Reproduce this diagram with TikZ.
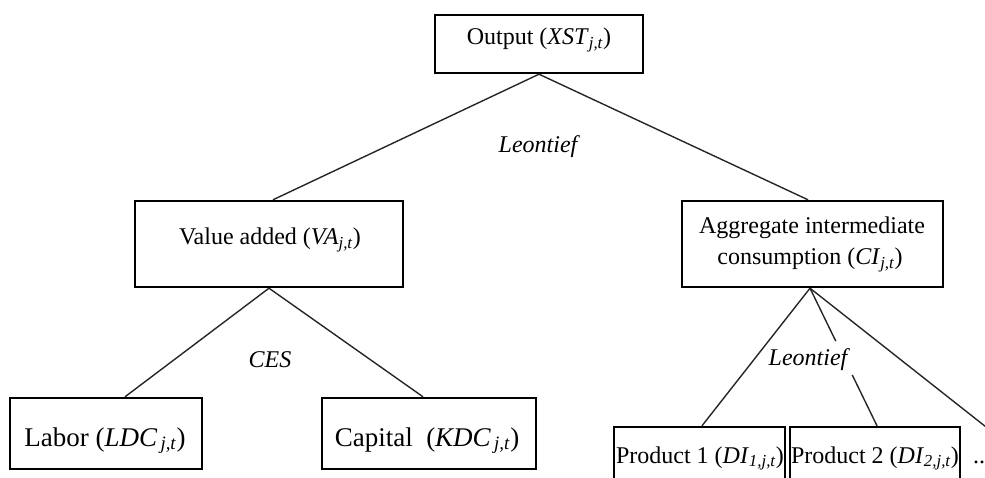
\documentclass[tikz,border=0pt]{standalone}
\usepackage{fontspec}
\setmainfont{Liberation Serif}
\tikzset{
  box/.style={draw=black, line width=2.4pt, rectangle, inner sep=0pt, fill=white},
  conn/.style={draw=black!85, line width=1.4pt},
  txt/.style={font=\fontsize{24}{30}\selectfont, inner sep=0pt, anchor=base},
  bigtxt/.style={font=\fontsize{27}{32}\selectfont, inner sep=0pt, anchor=base},
  rulelbl/.style={font=\fontsize{24}{30}\selectfont\itshape, inner sep=0pt, anchor=base},
}
\newcommand{\jt}{\textsubscript{\textit{j,t}}}
\begin{document}
\begin{tikzpicture}[x=1pt,y=-1pt]
  \useasboundingbox (0,0) rectangle (985,478);
  \clip (0,0) rectangle (985,478);
  % boxes
  \node[box, minimum width=208pt, minimum height=58pt] (out) at (539,44) {};
  \node[box, minimum width=268pt, minimum height=86pt] (va) at (269,244) {};
  \node[box, minimum width=261pt, minimum height=86pt] (agg) at (812.5,244) {};
  \node[box, minimum width=192pt, minimum height=71pt] (lab) at (106,433.5) {};
  \node[box, minimum width=214pt, minimum height=71pt] (cap) at (429,433.5) {};
  \node[box, minimum width=171pt, minimum height=80pt] (p1) at (699.5,467) {};
  \node[box, minimum width=170pt, minimum height=80pt] (p2) at (875,467) {};
  \coordinate (p3) at (1000,438);
  \coordinate (apex) at ([xshift=-2.5pt]agg.south);
  \coordinate (p2top) at ([xshift=2pt]p2.north);
  \path (apex) -- (p2top) coordinate[pos=0.385] (g1) coordinate[pos=0.63] (g2);
  % connectors
  \draw[conn] (out.south) -- ([xshift=4pt]va.north);
  \draw[conn] (out.south) -- ([xshift=-4.5pt]agg.north);
  \draw[conn] (va.south) -- ([xshift=19pt]lab.north);
  \draw[conn] (va.south) -- ([xshift=-6pt]cap.north);
  \draw[conn] (apex) -- ([xshift=2.5pt]p1.north);
  \draw[conn] (apex) -- (g1);
  \draw[conn] (g2) -- (p2top);
  \draw[conn] (apex) -- (p3);
  % texts
  \node[txt] (outt) at (539,45) {Output (\textit{XST}\jt)};
  \node[txt] (vat) at (270,245) {Value added (\textit{VA}\jt)};
  \node[txt] (aggt1) at (812,234) {Aggregate intermediate};
  \node[txt] (aggt2) at (810,265) {consumption (\textit{CI}\jt)};
  \node[bigtxt] (labt) at (105,446) {Labor (\textit{LDC}\textsubscript{\,\textit{j,t}})};
  \node[bigtxt] (capt) at (427,446) {Capital\ \ (\textit{KDC}\textsubscript{\,\textit{j,t}})};
  \node[txt] (p1t) at (700,463) {Product 1 (\textit{DI}\textsubscript{\textit{1,j,t}})};
  \node[txt] (p2t) at (875,463) {Product 2 (\textit{DI}\textsubscript{\textit{2,j,t}})};
  \node[txt, anchor=base west] (dots) at (973,463) {..};
  % rule labels
  \node[rulelbl] (leo1) at (538,153) {Leontief};
  \node[rulelbl] (ces) at (270,367) {CES};
  \node[rulelbl] (leo2) at (808,365) {Leontief};
\end{tikzpicture}
\end{document}
